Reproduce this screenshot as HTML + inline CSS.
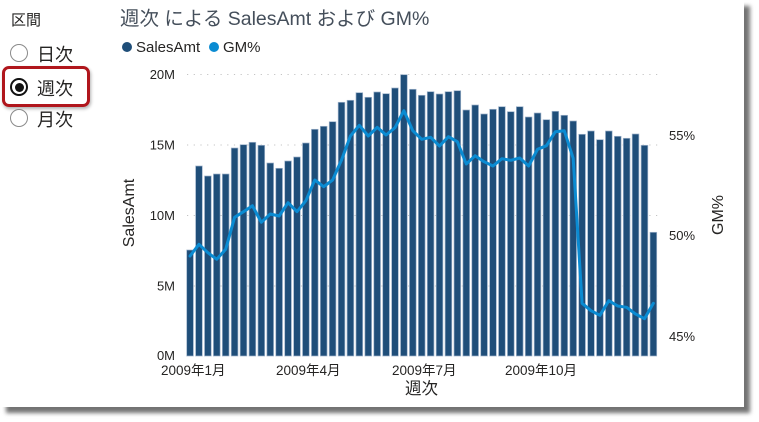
<!DOCTYPE html>
<html><head><meta charset="utf-8">
<style>
html,body{margin:0;padding:0;background:#fff;}
body{width:759px;height:422px;position:relative;overflow:hidden;font-family:"Liberation Sans","Noto Sans CJK JP",sans-serif;}
#card{position:absolute;left:0;top:0;width:744px;height:407px;background:#fff;box-shadow:6px 6px 4px rgba(0,0,0,0.55);}
.lbl{position:absolute;color:#252423;white-space:nowrap;}
.radio{position:absolute;width:18px;height:18px;border:1.3px solid #8a8a8a;border-radius:50%;box-sizing:border-box;background:#fff;}
.sel{border:2px solid #111;}
.sel::after{content:"";position:absolute;left:2.5px;top:2.5px;width:9px;height:9px;border-radius:50%;background:#111;}
#redbox{position:absolute;left:2px;top:66px;width:88px;height:41px;border:3px solid #b0161c;border-radius:7px;box-sizing:border-box;box-shadow:1px 2px 3px rgba(0,0,0,0.3);}
svg{position:absolute;left:0;top:0;}
</style></head><body>
<div id="card"></div>
<div class="lbl" style="left:11px;top:9px;font-size:15px;">区間</div>
<div class="radio" style="left:10px;top:44px;"></div>
<div class="lbl" style="left:37px;top:41px;font-size:18px;">日次</div>
<div id="redbox"></div>
<div class="radio sel" style="left:10px;top:78px;"></div>
<div class="lbl" style="left:37px;top:75px;font-size:18px;">週次</div>
<div class="radio" style="left:10px;top:109px;"></div>
<div class="lbl" style="left:37px;top:106px;font-size:18px;">月次</div>

<svg width="759" height="422" viewBox="0 0 759 422" xmlns="http://www.w3.org/2000/svg" font-family="Liberation Sans, Noto Sans CJK JP, sans-serif">
<text x="120" y="25" font-size="19.5" fill="#454f5b">週次 による SalesAmt および GM%</text>
<circle cx="127" cy="47" r="5" fill="#1f4e79"/>
<text x="136" y="52" font-size="15" fill="#252423">SalesAmt</text>
<circle cx="214" cy="47" r="5" fill="#0a8bd2"/>
<text x="223" y="52" font-size="15" fill="#252423">GM%</text>

<g stroke="#c4c4c4" stroke-width="1" stroke-dasharray="1.2 5.5">
<line x1="187" y1="74.5" x2="658" y2="74.5"/>
<line x1="187" y1="145" x2="658" y2="145"/>
<line x1="187" y1="215.5" x2="658" y2="215.5"/>
<line x1="187" y1="286" x2="658" y2="286"/>
</g>

<g font-size="13" fill="#252423" text-anchor="end">
<text x="175" y="79">20M</text>
<text x="175" y="149.5">15M</text>
<text x="175" y="220">10M</text>
<text x="175" y="290.5">5M</text>
<text x="175" y="360">0M</text>
</g>
<g font-size="13" fill="#252423">
<text x="669" y="140">55%</text>
<text x="669" y="240">50%</text>
<text x="669" y="341">45%</text>
</g>
<text transform="translate(134,213) rotate(-90)" text-anchor="middle" font-size="16" fill="#252423">SalesAmt</text>
<text transform="translate(723,215) rotate(-90)" text-anchor="middle" font-size="16" fill="#252423">GM%</text>

<g font-size="13.5" fill="#252423">
<text x="161" y="375">2009年1月</text>
<text x="276" y="375">2009年4月</text>
<text x="392" y="375">2009年7月</text>
<text x="505" y="375">2009年10月</text>
</g>
<text x="421.5" y="394" text-anchor="middle" font-size="16.5" fill="#252423">週次</text>

<g fill="#1f4e79" stroke="#9fb3cb" stroke-width="0.7">
<rect x="186.7" y="250" width="6.7" height="106"/>
<rect x="195.61" y="166" width="6.7" height="190"/>
<rect x="204.52" y="176" width="6.7" height="180"/>
<rect x="213.43" y="174" width="6.7" height="182"/>
<rect x="222.34" y="174" width="6.7" height="182"/>
<rect x="231.25" y="148" width="6.7" height="208"/>
<rect x="240.16" y="144.7" width="6.7" height="211.3"/>
<rect x="249.07" y="142.3" width="6.7" height="213.7"/>
<rect x="257.98" y="145.3" width="6.7" height="210.7"/>
<rect x="266.89" y="163" width="6.7" height="193"/>
<rect x="275.8" y="168.3" width="6.7" height="187.7"/>
<rect x="284.71" y="161" width="6.7" height="195"/>
<rect x="293.62" y="157" width="6.7" height="199"/>
<rect x="302.53" y="143" width="6.7" height="213"/>
<rect x="311.44" y="129.3" width="6.7" height="226.7"/>
<rect x="320.35" y="126.3" width="6.7" height="229.7"/>
<rect x="329.26" y="121.7" width="6.7" height="234.3"/>
<rect x="338.17" y="102.3" width="6.7" height="253.7"/>
<rect x="347.08" y="100.3" width="6.7" height="255.7"/>
<rect x="355.99" y="92.7" width="6.7" height="263.3"/>
<rect x="364.9" y="97.3" width="6.7" height="258.7"/>
<rect x="373.81" y="92" width="6.7" height="264"/>
<rect x="382.72" y="93.7" width="6.7" height="262.3"/>
<rect x="391.63" y="88" width="6.7" height="268"/>
<rect x="400.54" y="74.7" width="6.7" height="281.3"/>
<rect x="409.45" y="89.3" width="6.7" height="266.7"/>
<rect x="418.36" y="95.3" width="6.7" height="260.7"/>
<rect x="427.27" y="91.7" width="6.7" height="264.3"/>
<rect x="436.18" y="94" width="6.7" height="262"/>
<rect x="445.09" y="91.7" width="6.7" height="264.3"/>
<rect x="454" y="90.7" width="6.7" height="265.3"/>
<rect x="462.91" y="110" width="6.7" height="246"/>
<rect x="471.82" y="105" width="6.7" height="251"/>
<rect x="480.73" y="114" width="6.7" height="242"/>
<rect x="489.64" y="109.3" width="6.7" height="246.7"/>
<rect x="498.55" y="106.7" width="6.7" height="249.3"/>
<rect x="507.46" y="111.7" width="6.7" height="244.3"/>
<rect x="516.37" y="106.7" width="6.7" height="249.3"/>
<rect x="525.28" y="117" width="6.7" height="239"/>
<rect x="534.19" y="113" width="6.7" height="243"/>
<rect x="543.1" y="119.7" width="6.7" height="236.3"/>
<rect x="552.01" y="111.3" width="6.7" height="244.7"/>
<rect x="560.92" y="115.3" width="6.7" height="240.7"/>
<rect x="569.83" y="121" width="6.7" height="235"/>
<rect x="578.74" y="134.3" width="6.7" height="221.7"/>
<rect x="587.65" y="131" width="6.7" height="225"/>
<rect x="596.56" y="139.7" width="6.7" height="216.3"/>
<rect x="605.47" y="131" width="6.7" height="225"/>
<rect x="614.38" y="136.3" width="6.7" height="219.7"/>
<rect x="623.29" y="138.3" width="6.7" height="217.7"/>
<rect x="632.2" y="134" width="6.7" height="222"/>
<rect x="641.11" y="145.3" width="6.7" height="210.7"/>
<rect x="650.02" y="232.3" width="6.7" height="123.7"/>
</g>

<polyline fill="none" stroke="#0a8bd2" stroke-width="3" stroke-linejoin="round" stroke-linecap="round" points="190.05,256 198.96,244.3 207.87,252.7 216.78,259.3 225.69,249.3 234.6,217.3 243.51,211.7 252.42,205.7 261.33,222.3 270.24,214 279.15,216 288.06,202.7 296.97,211.7 305.88,200.7 314.79,180 323.7,186.7 332.61,180 341.52,160 350.43,136 359.34,125.3 368.25,136 377.16,127.3 386.07,135 394.98,127.7 403.89,110.7 412.8,130.7 421.71,139.3 430.62,137.3 439.53,146 448.44,136.7 457.35,141.7 466.26,164 475.17,155.7 484.08,161.7 492.99,166 501.9,158.7 510.81,160.3 519.72,158 528.63,166 537.54,149.3 546.45,145.7 555.36,131.7 564.27,130.7 573.18,158.3 582.09,303.3 591,310.7 599.91,315.3 608.82,300.7 617.73,306 626.64,307.3 635.55,314 644.46,318.7 653.37,303.3"/>
</svg>
</body></html>
